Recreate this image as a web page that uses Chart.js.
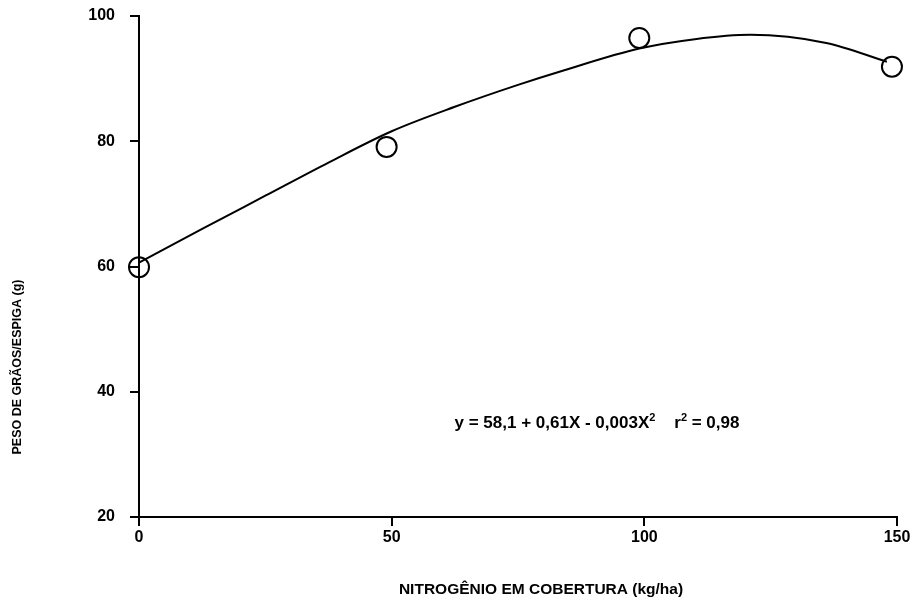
<!DOCTYPE html>
<html>
<head>
<meta charset="utf-8">
<script src="https://cdn.jsdelivr.net/npm/chart.js@4/dist/chart.umd.min.js"></script>
<style>
html,body{margin:0;padding:0;background:#fff;}
#wrap{width:916px;height:601px;position:relative;}
</style>
</head>
<body>
<div id="wrap"><canvas id="c"></canvas></div>
<script>
// Observed data (nitrogen dose kg/ha vs grain weight per ear, g)
const obsX = [0, 49, 99, 149];
const obsY = [59.9, 79.1, 96.5, 91.9];
// Fitted curve as drawn in the figure
const curveX = [0, 12.5, 25, 37.5, 50, 62.5, 75, 84, 99, 110, 121, 136, 148];
const curveY = [60.6, 66, 71.3, 76.6, 81.6, 85.5, 89, 91.3, 94.8, 96.3, 97.0, 95.7, 92.7];
// Axis ticks
const xTicks = [0, 50, 100, 150];
const yTicks = [20, 40, 60, 80, 100];
// Texts
const xTitle = 'NITROGÊNIO EM COBERTURA (kg/ha)';
const yTitle = 'PESO DE GRÃOS/ESPIGA (g)';
const equationParts = [
  ['y = 58,1 + 0,61X - 0,003X', false],
  ['2', true],
  ['    r', false],
  ['2', true],
  [' = 0,98', false]
];

const FONT = '"Liberation Sans", Arial, Helvetica, sans-serif';

const textPlugin = {
  id: 'texts',
  afterDraw(chart) {
    const ctx = chart.ctx;
    ctx.save();
    ctx.fillStyle = '#000';
    ctx.textBaseline = 'alphabetic';
    ctx.textAlign = 'left';
    // equation with superscripts
    const mainF = 'bold 17px ' + FONT, supF = 'bold 11px ' + FONT;
    let total = 0;
    equationParts.forEach(([t, sup]) => { ctx.font = sup ? supF : mainF; total += ctx.measureText(t).width; });
    let x = 597 - total / 2;
    const base = 428;
    equationParts.forEach(([t, sup]) => {
      ctx.font = sup ? supF : mainF;
      ctx.fillText(t, x, sup ? base - 7 : base);
      x += ctx.measureText(t).width;
    });
    // x title
    ctx.textAlign = 'center';
    ctx.textBaseline = 'middle';
    ctx.font = 'bold 15.5px ' + FONT;
    ctx.fillText(xTitle, 541, 590);
    // y title
    ctx.font = 'bold 12.5px ' + FONT;
    ctx.translate(18, 367);
    ctx.rotate(-Math.PI / 2);
    ctx.fillText(yTitle, 0, 0);
    ctx.restore();
  }
};

new Chart(document.getElementById('c'), {
  type: 'scatter',
  data: {
    datasets: [
      {
        label: 'curve',
        data: curveX.map((x, i) => ({x: x, y: curveY[i]})),
        showLine: true,
        borderColor: '#000',
        borderWidth: 2,
        pointRadius: 0,
        cubicInterpolationMode: 'monotone',
        fill: false,
        clip: false
      },
      {
        label: 'obs',
        data: obsX.map((x, i) => ({x: x, y: obsY[i]})),
        pointRadius: 10,
        pointBorderWidth: 2,
        borderColor: '#000',
        backgroundColor: 'rgba(0,0,0,0)',
        pointBackgroundColor: 'rgba(0,0,0,0)',
        pointBorderColor: '#000',
        clip: false
      }
    ]
  },
  options: {
    responsive: true,
    maintainAspectRatio: false,
    animation: false,
    layout: { padding: { left: 0, right: 19, top: 16, bottom: 0 } },
    plugins: { legend: { display: false }, tooltip: { enabled: false } },
    scales: {
      x: {
        type: 'linear',
        min: 0, max: 150,
        afterBuildTicks: (s) => { s.ticks = xTicks.map(v => ({value: v})); },
        afterFit: (s) => { s.height = 84; s.paddingLeft = 0; s.paddingRight = 0; },
        border: { display: true, color: '#000', width: 2 },
        grid: { display: true, drawOnChartArea: false, drawTicks: true, tickLength: 9, color: '#000', lineWidth: 2 },
        ticks: { color: '#000', padding: 2, font: { family: FONT, size: 16, weight: 'bold' } }
      },
      y: {
        type: 'linear',
        min: 20, max: 100,
        afterBuildTicks: (s) => { s.ticks = yTicks.map(v => ({value: v})); },
        afterFit: (s) => { s.width = 139; s.paddingTop = 0; s.paddingBottom = 0; },
        border: { display: true, color: '#000', width: 2 },
        grid: { display: true, drawOnChartArea: false, drawTicks: true, tickLength: 9, color: '#000', lineWidth: 2 },
        ticks: { color: '#000', padding: 15, font: { family: FONT, size: 16, weight: 'bold' } }
      }
    }
  },
  plugins: [textPlugin]
});
</script>
</body>
</html>
